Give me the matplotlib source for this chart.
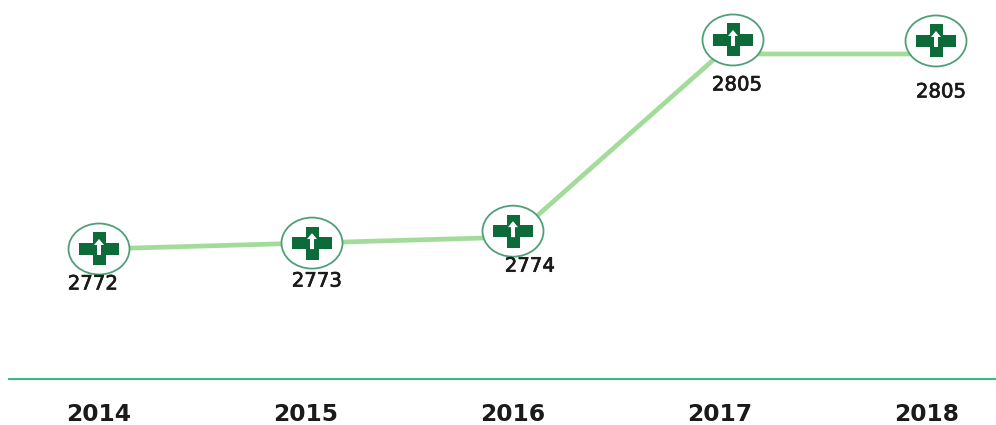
import matplotlib
matplotlib.use("Agg")
import matplotlib.pyplot as plt
import matplotlib.patheffects as pe
from matplotlib.patches import Ellipse, Polygon
from matplotlib.transforms import Affine2D, ScaledTranslation

years = ["2014", "2015", "2016", "2017", "2018"]
values = [2772, 2773, 2774, 2805, 2805]
value_labels = ["2772", "2773", "2774", "2805", "2805"]

# pixel offsets from each data point
icon_offsets = [(0, 0), (6, 0), (0, 6), (13, 14), (9, 13)]
label_offsets = [(-6, -35), (11, -38), (17, -29), (17, -31), (14, -38)]

W, H = 996, 425
fig = plt.figure(figsize=(W / 100, H / 100), dpi=100, facecolor="white")
BASE = 379
ax = fig.add_axes([9 / W, (H - BASE) / H, (W - 9) / W, BASE / H])
ax.set_xlim((9 - 99) / 207, (996 - 99) / 207)
ax.set_ylim(2772 - (BASE - 249) / 5.91, 2772 + 249 / 5.91)
ax.patch.set_alpha(0)
for s in ("top", "left", "right"):
    ax.spines[s].set_visible(False)
ax.spines["bottom"].set_color("#2DBE7B")
ax.spines["bottom"].set_linewidth(1.4)
ax.set_yticks([])
ax.set_xticks(range(len(years)))
ax.set_xticklabels(years, fontsize=16.8, fontweight="bold", color="#1a1a1a")
ax.tick_params(axis="x", length=0, pad=17)

xs = list(range(len(years)))
ax.plot(xs, values, color="#A3DC9A", lw=3.4, solid_capstyle="round", zorder=2, clip_on=False)

GREEN = "#0C6B38"
for x, v, (dx, dy), txt, (lx, ly) in zip(xs, values, icon_offsets, value_labels, label_offsets):
    tr = Affine2D().translate(dx, dy) + ScaledTranslation(x, v, ax.transData)
    ax.add_patch(Ellipse((0, 0), 61, 51, transform=tr, fc="white", ec="#4F9F78", lw=1.3, zorder=3, clip_on=False))
    ax.add_patch(Polygon([(-6.5, 16.5), (6.5, 16.5), (6.5, 6), (20, 6), (20, -6), (6.5, -6), (6.5, -16.5), (-6.5, -16.5),
                          (-6.5, -6), (-20, -6), (-20, 6), (-6.5, 6)],
                         transform=tr, fc=GREEN, ec="none", zorder=4, clip_on=False))
    ax.add_patch(Polygon([(0, 10), (-5, 4), (-2, 4), (-2, -6), (2, -6), (2, 4), (5, 4)],
                         transform=tr, fc="white", ec="none", zorder=5, clip_on=False))
    ltr = Affine2D().translate(lx, ly) + ScaledTranslation(x, v, ax.transData)
    ax.text(0, 0, txt, transform=ltr, ha="center", va="center", fontsize=14.2,
            color="#1a1a1a", zorder=6, clip_on=False,
            path_effects=[pe.withStroke(linewidth=0.5, foreground="#1a1a1a")])

fig.savefig("out.png", dpi=100, facecolor="white")
